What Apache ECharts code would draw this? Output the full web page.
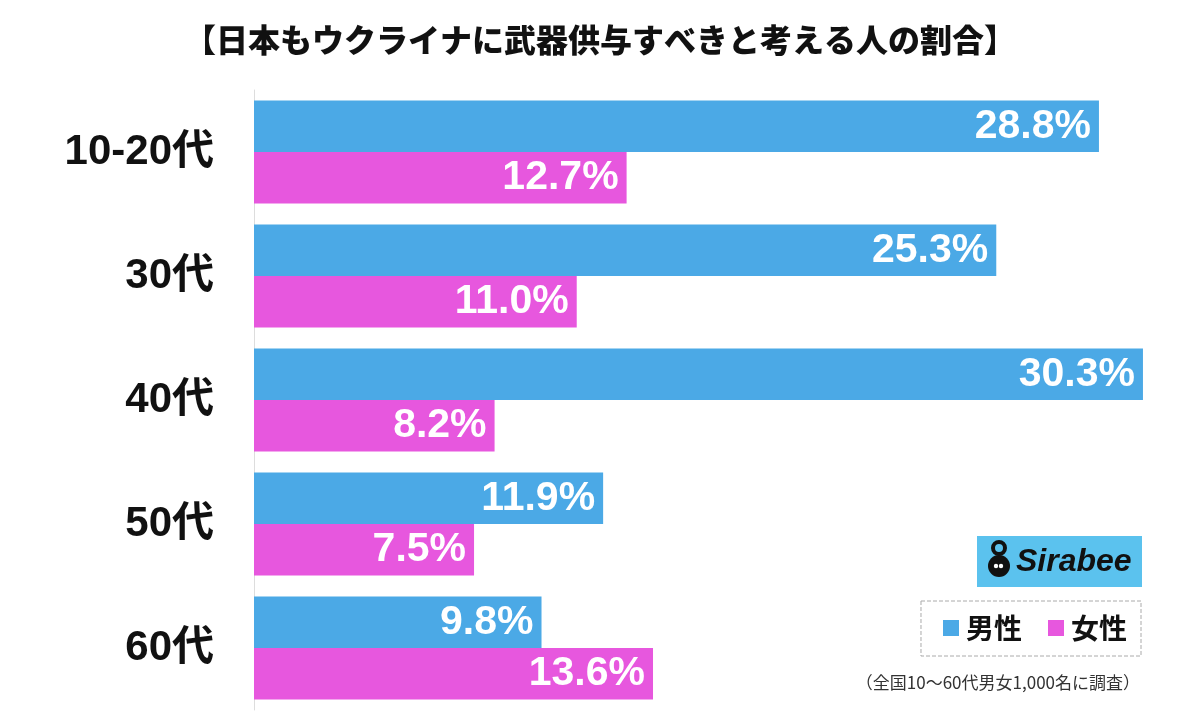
<!DOCTYPE html>
<html>
<head>
<meta charset="utf-8">
<script src="https://cdn.jsdelivr.net/npm/echarts@6/dist/echarts.min.js"></script>
<style>
html,body{margin:0;padding:0;background:#fff;}
#chart{width:1200px;height:711px;}
</style>
</head>
<body>
<div id="chart"></div>
<script>
const titleText = '【日本もウクライナに武器供与すべきと考える人の割合】';
const categories = ['10-20代', '30代', '40代', '50代', '60代'];
const seriesNames = ['男性', '女性'];
const maleValues = [28.8, 25.3, 30.3, 11.9, 9.8];
const femaleValues = [12.7, 11.0, 8.2, 7.5, 13.6];
const noteText = '（全国10〜60代男女1,000名に調査）';
const logoText = 'Sirabee';

const BLUE = '#4BA9E6';
const PINK = '#E757DE';
const CJK = '"Liberation Sans", "Noto Sans CJK JP", sans-serif';

const chart = echarts.init(document.getElementById('chart'), null, {renderer: 'canvas'});

function labelCfg() {
  return {
    show: true,
    position: 'insideRight',
    distance: 8,
    color: '#fff',
    fontFamily: CJK,
    fontWeight: 'bold',
    fontSize: 41,
    formatter: p => p.value.toFixed(1) + '%'
  };
}

chart.setOption({
  backgroundColor: '#fff',
  animation: false,
  title: {
    text: titleText,
    left: 'center',
    top: 19,
    textStyle: {fontFamily: '"Noto Sans CJK JP", sans-serif', fontWeight: 900, fontSize: 32, color: '#111'}
  },
  grid: {left: 254, top: 90, width: 909.5, height: 620, containLabel: false},
  xAxis: {
    type: 'value', min: 0, max: 31,
    show: false
  },
  yAxis: {
    type: 'category',
    data: categories,
    inverse: true,
    axisLine: {show: true, lineStyle: {color: '#dddddd', width: 1}},
    axisTick: {show: false},
    axisLabel: {
      margin: 40,
      color: '#111',
      fontFamily: CJK,
      fontWeight: 'bold',
      fontSize: 42
    }
  },
  legend: {
    data: seriesNames,
    right: 59,
    top: 601,
    itemWidth: 16,
    itemHeight: 16,
    itemGap: 26,
    padding: [13, 14, 14, 22],
    borderColor: '#aaaaaa',
    borderWidth: 1,
    borderType: 'dashed',
    icon: 'rect',
    textStyle: {fontFamily: '"Noto Sans CJK JP", sans-serif', fontWeight: 'bold', fontSize: 28, color: '#111', padding: [0, 0, 0, 2]}
  },
  series: [
    {
      name: seriesNames[0], type: 'bar', data: maleValues,
      barGap: 0, barCategoryGap: '17%',
      itemStyle: {color: BLUE},
      label: labelCfg()
    },
    {
      name: seriesNames[1], type: 'bar', data: femaleValues,
      barGap: 0, barCategoryGap: '17%',
      itemStyle: {color: PINK},
      label: labelCfg()
    }
  ],
  graphic: [
    {type: 'rect', shape: {x: 977, y: 536, width: 165, height: 51}, style: {fill: '#5BC2EE'}},
    {type: 'circle', shape: {cx: 999, cy: 566, r: 11}, style: {fill: '#111'}},
    {type: 'circle', shape: {cx: 999, cy: 548, r: 6}, style: {fill: 'none', stroke: '#111', lineWidth: 4}},
    {type: 'circle', shape: {cx: 996, cy: 566, r: 2.2}, style: {fill: '#fff'}},
    {type: 'circle', shape: {cx: 1001, cy: 566, r: 2.2}, style: {fill: '#fff'}},
    {type: 'text', x: 1016, y: 562, style: {text: logoText, fill: '#111', fontFamily: '"Liberation Sans", sans-serif', fontWeight: 'bold', fontStyle: 'italic', fontSize: 32, textVerticalAlign: 'middle', verticalAlign: 'middle'}},
    {type: 'text', x: 1140, y: 683, style: {text: noteText, fill: '#333', fontFamily: '"Noto Sans CJK JP", sans-serif', fontSize: 17, align: 'right', verticalAlign: 'middle'}}
  ]
});
</script>
</body>
</html>
